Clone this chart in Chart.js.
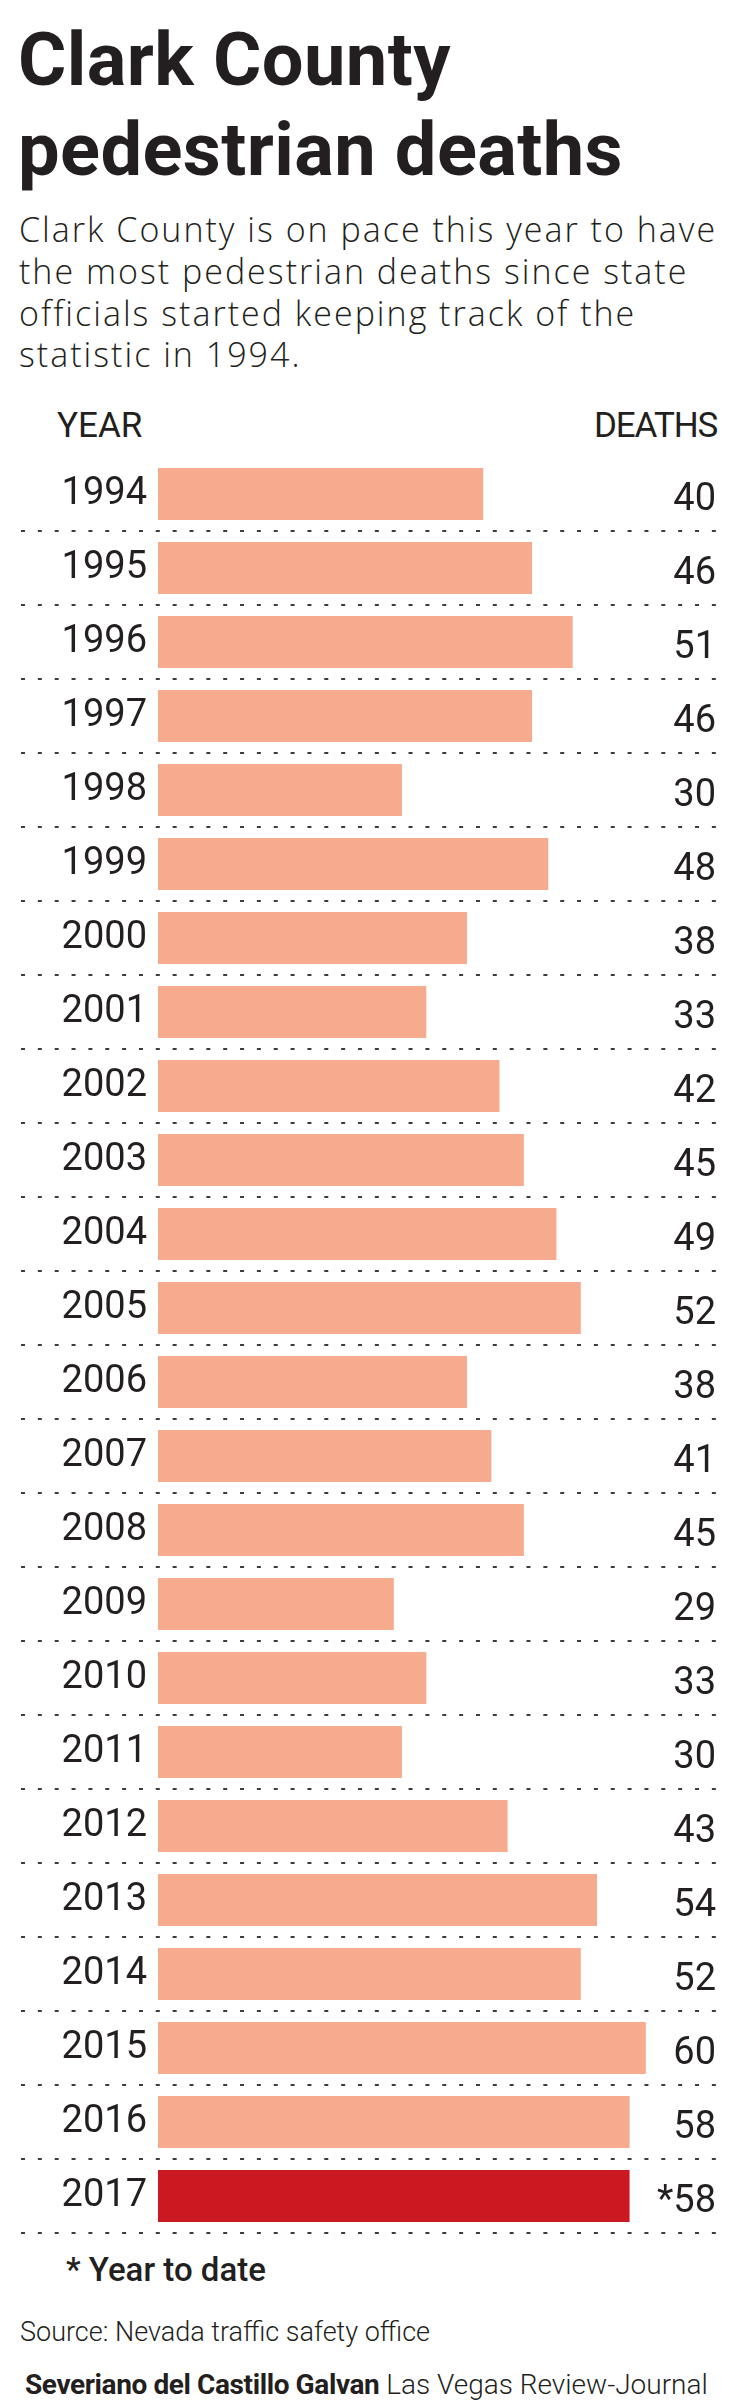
<!DOCTYPE html>
<html>
<head>
<meta charset="utf-8">
<script src="https://cdn.jsdelivr.net/npm/chart.js@4"></script>
<style>
  html, body { margin: 0; padding: 0; background: #fff; }
  body { width: 755px; height: 2406px; position: relative; overflow: hidden; color: #231f20; font-family: Roboto, "Noto Sans", sans-serif; }
  .txt { position: absolute; white-space: nowrap; line-height: 1; }
  #title { left: 18px; top: 15px; font-size: 74px; font-weight: 700; line-height: 90px; letter-spacing: 0.4px; }
  #dek { left: 19px; top: 209px; font-family: "Open Sans", Roboto, sans-serif; font-size: 34px; font-weight: 300; line-height: 41.8px; letter-spacing: 2px; }
  .head { top: 408px; font-family: "Liberation Sans Narrow", Roboto, sans-serif; font-size: 35px; }
  #yearHead { left: 57px; }
  #deathsHead { right: 38px; letter-spacing: -1.2px; }
  #note { left: 66px; top: 2253px; font-size: 33px; font-weight: 500; }
  #source { left: 20px; top: 2319px; font-size: 27px; font-weight: 300; }
  #credit { left: 25px; top: 2371px; font-size: 28px; font-weight: 300; }
  #credit b { font-weight: 700; letter-spacing: -0.4px; }
  #chartBox { position: absolute; left: 0; top: 440px; width: 755px; height: 1800px; }
</style>
</head>
<body>
<div id="title" class="txt">Clark County<br>pedestrian deaths</div>
<div id="dek" class="txt">Clark County is on pace this year to have<br>the most pedestrian deaths since state<br>officials started keeping track of the<br>statistic in 1994.</div>
<div id="yearHead" class="txt head">YEAR</div>
<div id="deathsHead" class="txt head">DEATHS</div>
<div id="chartBox"><canvas id="myChart"></canvas></div>
<div id="note" class="txt">* Year to date</div>
<div id="source" class="txt">Source: Nevada traffic safety office</div>
<div id="credit" class="txt"><b>Severiano del Castillo Galvan</b> Las Vegas Review-Journal</div>

<script>
const years = ['1994', '1995', '1996', '1997', '1998', '1999', '2000', '2001', '2002', '2003', '2004', '2005',
  '2006', '2007', '2008', '2009', '2010', '2011', '2012', '2013', '2014', '2015', '2016', '2017'];
const deaths = [40, 46, 51, 46, 30, 48, 38, 33, 42, 45, 49, 52, 38, 41, 45, 29, 33, 30, 43, 54, 52, 60, 58, 58];
// 2017 is only year to date
const ytdYear = '2017';

const BAR_COLOR = '#f6aa8e';
const YTD_COLOR = '#cc1820';
const TEXT_COLOR = '#231f20';
const DOT_COLOR = '#3c3c3c';
const LABEL_FONT = { family: 'Roboto', size: 38, weight: '400' };

// labels for the right hand column, pushed a bit down with an empty first line
let valueLabels = [];
for (let i = 0; i < deaths.length; i++) {
  let txt = (years[i] == ytdYear ? '*' : '') + deaths[i];
  valueLabels.push(['', txt]);
}

let barColors = years.map(y => y == ytdYear ? YTD_COLOR : BAR_COLOR);

// years are right aligned, so work out how wide the widest one is
let measure = document.createElement('canvas').getContext('2d');
measure.font = '400 38px Roboto';
let widest = Math.max(...years.map(y => measure.measureText(y).width));
const yearRight = 147;
const chartLeft = 21;
const chartRight = 716;

// the axes sit inside the chart area, so they take no room of their own
function noRoom(scale) {
  scale.width = 0;
  scale.paddingTop = 0;
  scale.paddingBottom = 0;
}

const data = {
  labels: years,
  datasets: [{
    data: deaths,
    backgroundColor: barColors,
    borderWidth: 0,
    barPercentage: 0.703,
    categoryPercentage: 1
  }]
};

const config = {
  type: 'bar',
  data: data,
  options: {
    indexAxis: 'y',
    responsive: true,
    maintainAspectRatio: false,
    animation: false,
    devicePixelRatio: 1,
    layout: {
      padding: { top: 17, bottom: 7, left: chartLeft, right: 755 - chartRight }
    },
    plugins: {
      legend: { display: false },
      tooltip: { enabled: false }
    },
    scales: {
      x: {
        type: 'linear',
        display: false,
        min: -16.85,
        max: 68.63
      },
      y: {
        type: 'category',
        position: 'left',
        afterFit: noRoom,
        border: { display: false, dash: [4, 12.85] },
        grid: {
          drawTicks: false,
          lineWidth: 2,
          // no dotted line above the first or below the last row
          color: ctx => (ctx.index == 0 || ctx.index >= years.length) ? 'rgba(0,0,0,0)' : DOT_COLOR
        },
        ticks: {
          mirror: true,
          crossAlign: 'far',
          autoSkip: false,
          padding: yearRight - chartLeft - widest,
          color: TEXT_COLOR,
          font: LABEL_FONT
        }
      },
      y2: {
        type: 'category',
        position: 'right',
        labels: valueLabels,
        afterFit: noRoom,
        border: { display: false },
        grid: { display: false, drawTicks: false },
        ticks: {
          mirror: true,
          crossAlign: 'near',
          autoSkip: false,
          padding: 0,
          color: TEXT_COLOR,
          font: { family: 'Roboto', size: 38, weight: '400', lineHeight: 0.32 }
        }
      }
    }
  }
};

const myChart = new Chart(document.getElementById('myChart'), config);
</script>
</body>
</html>
